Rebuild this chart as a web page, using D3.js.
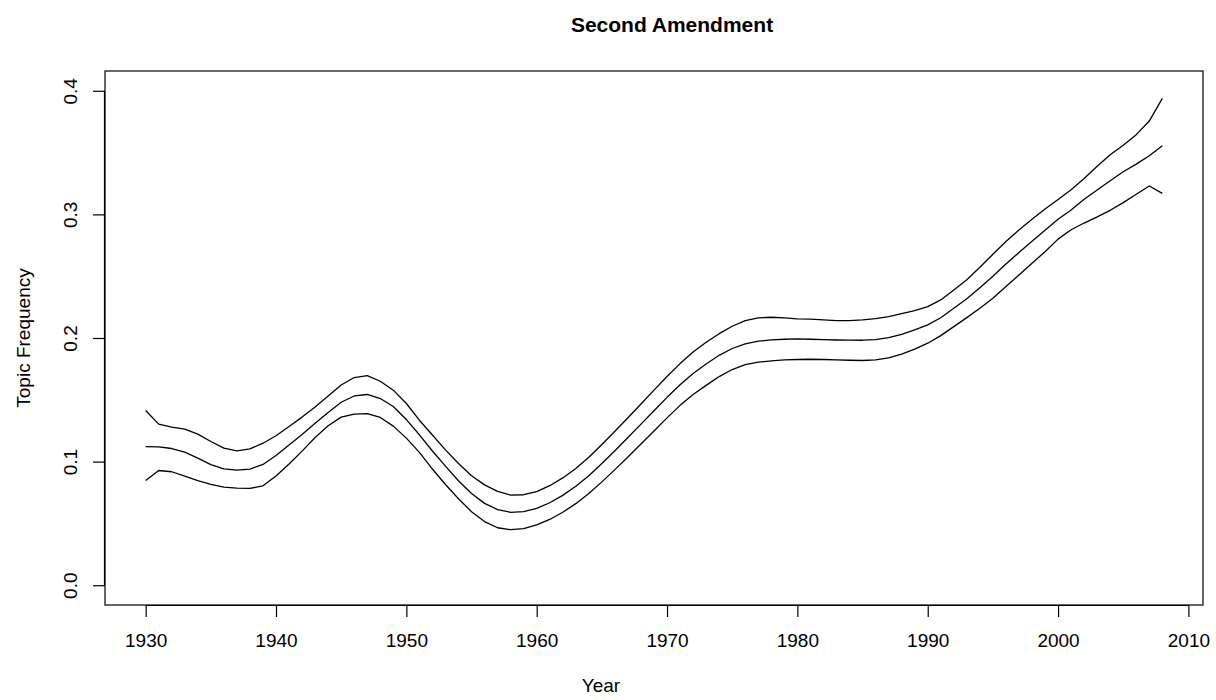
<!DOCTYPE html>
<html>
<head>
<meta charset="utf-8">
<script src="https://cdn.jsdelivr.net/npm/d3@7"></script>
<style>
  html, body { margin: 0; padding: 0; background: #fff; }
  svg { display: block; font-family: "Liberation Sans", Arial, Helvetica, sans-serif; }
</style>
</head>
<body>
<svg id="chart" width="1216" height="700"></svg>
<script>
// Yearly estimates of the topic frequency with lower / upper bands
const years = d3.range(1930, 2009);

const estimate = [
  0.1122, 0.1120, 0.1106, 0.1077, 0.1028, 0.0975, 0.0942, 0.0931, 0.0940, 0.0977,
  0.1050, 0.1135, 0.1220, 0.1310, 0.1397, 0.1480, 0.1531, 0.1543, 0.1510, 0.1446,
  0.1340, 0.1217, 0.1086, 0.0963, 0.0845, 0.0742, 0.0662, 0.0612, 0.0590, 0.0595,
  0.0622, 0.0667, 0.0727, 0.0800, 0.0886, 0.0985, 0.1088, 0.1195, 0.1303, 0.1412,
  0.1520, 0.1622, 0.1713, 0.1790, 0.1860, 0.1915, 0.1952, 0.1974, 0.1985, 0.1990,
  0.1993, 0.1990, 0.1987, 0.1984, 0.1982, 0.1982, 0.1987, 0.2003, 0.2030, 0.2066,
  0.2106, 0.2164, 0.2240, 0.2318, 0.2407, 0.2500, 0.2598, 0.2692, 0.2783, 0.2871,
  0.2960, 0.3036, 0.3122, 0.3197, 0.3272, 0.3345, 0.3407, 0.3475, 0.3555
];

const upper = [
  0.1413, 0.1303, 0.1279, 0.1263, 0.1222, 0.1163, 0.1109, 0.1087, 0.1103, 0.1149,
  0.1209, 0.1284, 0.1360, 0.1442, 0.1530, 0.1620, 0.1680, 0.1696, 0.1650, 0.1578,
  0.1470, 0.1335, 0.1215, 0.1095, 0.0985, 0.0885, 0.0812, 0.0759, 0.0729, 0.0732,
  0.0757, 0.0805, 0.0868, 0.0945, 0.1035, 0.1138, 0.1245, 0.1355, 0.1466, 0.1578,
  0.1688, 0.1793, 0.1887, 0.1966, 0.2035, 0.2095, 0.2141, 0.2163, 0.2168, 0.2163,
  0.2154, 0.2152, 0.2146, 0.2141, 0.2141, 0.2146, 0.2157, 0.2173, 0.2197, 0.2222,
  0.2254, 0.2308, 0.2389, 0.2472, 0.2572, 0.2677, 0.2780, 0.2874, 0.2960, 0.3044,
  0.3120, 0.3200, 0.3290, 0.3390, 0.3483, 0.3559, 0.3645, 0.3755, 0.3938
];

const lower = [
  0.0847, 0.0928, 0.0918, 0.0883, 0.0847, 0.0815, 0.0794, 0.0786, 0.0783, 0.0804,
  0.0883, 0.0980, 0.1085, 0.1195, 0.1290, 0.1360, 0.1384, 0.1388, 0.1357, 0.1287,
  0.1190, 0.1075, 0.0940, 0.0815, 0.0700, 0.0595, 0.0515, 0.0465, 0.0449, 0.0458,
  0.0489, 0.0532, 0.0590, 0.0660, 0.0742, 0.0836, 0.0935, 0.1038, 0.1143, 0.1248,
  0.1354, 0.1455, 0.1543, 0.1617, 0.1688, 0.1745, 0.1785, 0.1804, 0.1815, 0.1823,
  0.1826, 0.1828, 0.1826, 0.1823, 0.1820, 0.1818, 0.1823, 0.1839, 0.1870, 0.1910,
  0.1958, 0.2019, 0.2092, 0.2165, 0.2241, 0.2322, 0.2416, 0.2510, 0.2605, 0.2698,
  0.2800, 0.2876, 0.2930, 0.2980, 0.3033, 0.3095, 0.3163, 0.3230, 0.3170
];

const xTicks = [1930, 1940, 1950, 1960, 1970, 1980, 1990, 2000, 2010];
const yTicks = [0.0, 0.1, 0.2, 0.3, 0.4];
const yTickLabels = ["0.0", "0.1", "0.2", "0.3", "0.4"];

const title = "Second Amendment";
const xTitle = "Year";
const yTitle = "Topic Frequency";

// Plot region
const box = { left: 105, right: 1203, top: 71, bottom: 605 };

const svg = d3.select("#chart");

// Data range padded by 4% on each side
const xMin = 1930, xMax = 2008;
const xPad = (xMax - xMin) * 0.04;
const x = d3.scaleLinear()
  .domain([xMin - xPad, xMax + xPad])
  .range([box.left, box.right]);

const yMin = 0, yMax = 0.4;
const yPad = (yMax - yMin) * 0.04;
const y = d3.scaleLinear()
  .domain([yMin - yPad, yMax + yPad])
  .range([box.bottom, box.top]);

const ink = "#000";
const fontSize = 19;

// Frame
svg.append("rect")
  .attr("x", box.left).attr("y", box.top)
  .attr("width", box.right - box.left)
  .attr("height", box.bottom - box.top)
  .attr("fill", "none").attr("stroke", ink).attr("stroke-width", 1.2);

// X axis
const xAxis = svg.append("g")
  .attr("transform", `translate(0,${box.bottom})`)
  .call(d3.axisBottom(x).tickValues(xTicks).tickFormat(d3.format("d")).tickSize(12).tickPadding(17));
xAxis.select(".domain").attr("d", `M${x(xTicks[0])},0.5H${x(xTicks[xTicks.length - 1])}`)
  .attr("stroke", ink).attr("stroke-width", 1.2);
xAxis.selectAll(".tick line").attr("stroke", ink).attr("stroke-width", 1.2);
xAxis.selectAll(".tick text")
  .attr("fill", ink)
  .style("font-family", "'Liberation Sans', Arial, sans-serif")
  .style("font-size", fontSize + "px");

// Y axis
const yAxis = svg.append("g")
  .attr("transform", `translate(${box.left},0)`)
  .call(d3.axisLeft(y).tickValues(yTicks).tickFormat((d, i) => yTickLabels[i]).tickSize(12));
yAxis.select(".domain").attr("d", `M-0.5,${y(yTicks[0])}V${y(yTicks[yTicks.length - 1])}`)
  .attr("stroke", ink).attr("stroke-width", 1.2);
yAxis.selectAll(".tick line").attr("stroke", ink).attr("stroke-width", 1.2);
yAxis.selectAll(".tick text")
  .attr("fill", ink)
  .attr("x", null).attr("dy", null)
  .attr("text-anchor", "middle")
  .attr("transform", "translate(-28,0) rotate(-90)")
  .style("font-family", "'Liberation Sans', Arial, sans-serif")
  .style("font-size", fontSize + "px");

// Titles
svg.append("text")
  .attr("x", 672).attr("y", 32)
  .attr("text-anchor", "middle")
  .attr("font-weight", "bold")
  .attr("font-size", 21)
  .attr("fill", ink)
  .text(title);

svg.append("text")
  .attr("x", 601).attr("y", 692)
  .attr("text-anchor", "middle")
  .attr("font-size", fontSize)
  .attr("fill", ink)
  .text(xTitle);

svg.append("text")
  .attr("transform", `translate(30,${(box.top + box.bottom) / 2}) rotate(-90)`)
  .attr("text-anchor", "middle")
  .attr("font-size", fontSize)
  .attr("fill", ink)
  .text(yTitle);

// Series lines
const line = d3.line()
  .x((d, i) => x(years[i]))
  .y(d => y(d));

[upper, estimate, lower].forEach(series => {
  svg.append("path")
    .datum(series)
    .attr("d", line)
    .attr("fill", "none")
    .attr("stroke", ink)
    .attr("stroke-width", 1.3)
    .attr("stroke-linejoin", "round");
});
</script>
</body>
</html>
